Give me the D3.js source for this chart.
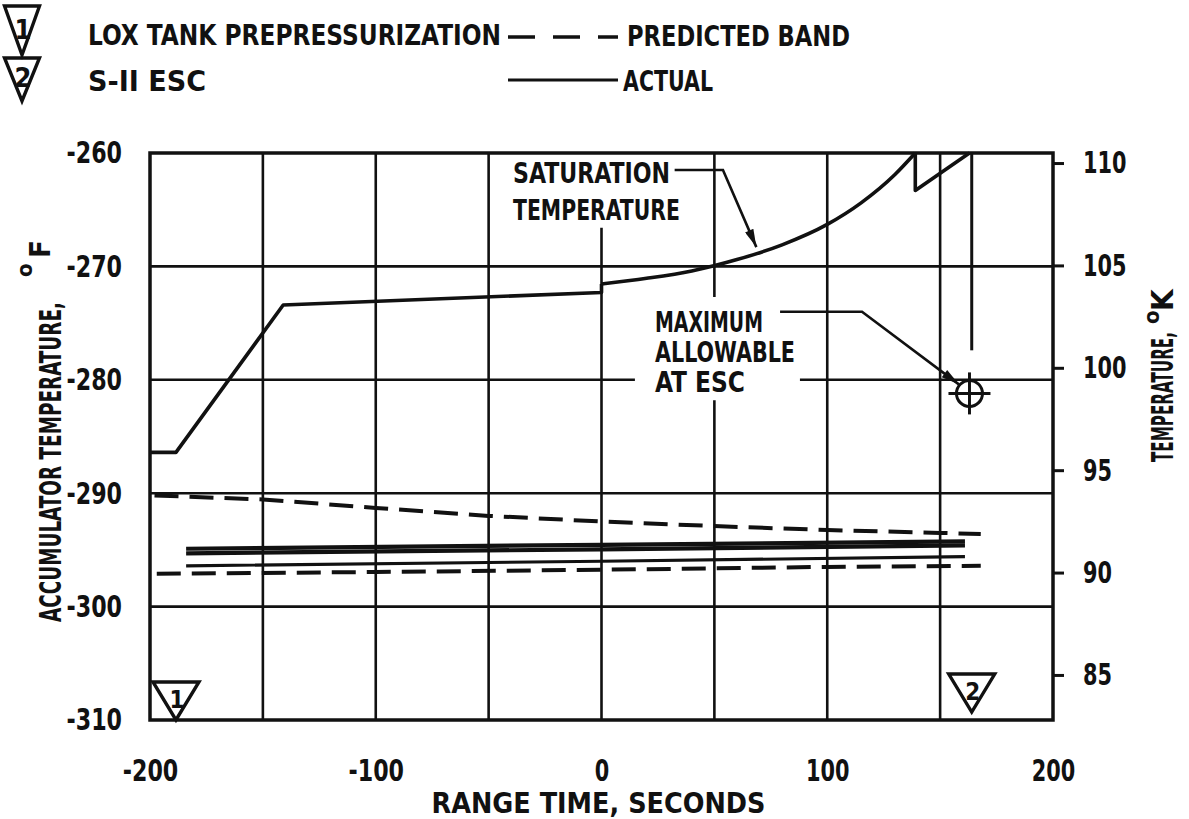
<!DOCTYPE html>
<html>
<head>
<meta charset="utf-8">
<script src="https://cdn.jsdelivr.net/npm/d3@7/dist/d3.min.js"></script>
<style>
  body { margin: 0; background: #fff; }
  svg text { font-family: "Liberation Sans Narrow", "DejaVu Sans Condensed", "Liberation Sans", sans-serif; font-weight: bold; fill: #111; }
</style>
</head>
<body>
<div id="viz"></div>
<script>
// range time (s) vs accumulator temperature (deg F)
const satRamp = [[-200,-286.4],[-188.5,-286.4],[-141,-273.4],[0,-272.3],[0,-271.55]];
const satRise = [[0,-271.55],[20,-271.05],[40,-270.4],[60,-269.4],[80,-268.1],[100,-266.3],[115,-264.4],[130,-261.9],[139,-260]];
const satStep = [[139,-260],[139,-263.3],[163,-260]];
const predictedUpper = [[-198,-290.2],[-150,-290.55],[-100,-291.3],[-50,-292.0],[0,-292.5],[50,-292.9],[100,-293.25],[150,-293.5],[168,-293.6]];
const predictedLower = [[-197,-297.1],[-100,-296.95],[0,-296.75],[100,-296.5],[168,-296.4]];
const actualA = [[-184,-294.9],[0,-294.55],[161,-294.25]];
const actualB = [[-184,-295.3],[0,-294.95],[161,-294.6]];
const actualC = [[-184,-296.4],[0,-296.0],[161,-295.6]];
const escLine = [[164,-260],[164,-277.4]];
const maxAllowable = [163,-281.2];

const xTicks = [-200,-100,0,100,200];
const xGrid = [-150,-100,-50,0,50,100,150];
const yTicksF = [-310,-300,-290,-280,-270,-260];
const yGrid = [-300,-290,-280,-270];
const yTicksK = [85,90,95,100,105,110];
const eventTimes = [-188.5,164];
const eventTemps = [-310,-309.3];
const eventLabels = ['1','2'];

// gaps in the grid where the notes sit
const vGaps = [[0,-266.6,-260],[50,-281.8,-272.7]];
const hGaps = [[-280,14.8,87.9]];

const satText = ['SATURATION','TEMPERATURE'];
const maxText = ['MAXIMUM','ALLOWABLE','AT ESC'];
const satLeader = [[32.4,-261.5],[53.8,-261.5],[68.6,-268.3]];
const maxLeader = [[79.1,-274.0],[115.4,-274.0],[158.3,-280.4]];

const W = 1189, H = 819;
const svg = d3.select('#viz').append('svg').attr('width', W).attr('height', H);

const x = d3.scaleLinear().domain([-200,200]).range([150,1053]);
const y = d3.scaleLinear().domain([-310,-260]).range([720,153]);
const yK = d3.scaleLinear().domain([82.8,110.49]).range([720,153]);

// squeeze the wide fallback font to the narrow typewriter look
function fit(sel, w) {
  return sel.attr('textLength', w).attr('lengthAdjust','spacingAndGlyphs');
}
const numW = s => s.replace('-', '').length * 14.5 + (s[0] === '-' ? 12 : 0);

svg.append('defs').append('marker')
  .attr('id','arrow').attr('viewBox','0 0 20 10').attr('refX',20).attr('refY',5)
  .attr('markerWidth',22).attr('markerHeight',9).attr('markerUnits','userSpaceOnUse')
  .attr('orient','auto')
  .append('path').attr('d','M0,0 L20,5 L0,10 Z').attr('fill','#111');

// grid
function cut(lo, hi, g) {
  if (!g) return [[lo,hi]];
  return [[lo,g[0]],[g[1],hi]].filter(s => s[1] - s[0] > 0.01);
}
xGrid.forEach(t => {
  const g = vGaps.find(d => d[0] === t);
  cut(-310, -260, g && [g[1], g[2]]).forEach(s => {
    svg.append('line').attr('x1', x(t)).attr('x2', x(t)).attr('y1', y(s[0])).attr('y2', y(s[1]))
      .attr('stroke','#111').attr('stroke-width',2.6);
  });
});
yGrid.forEach(v => {
  const g = hGaps.find(d => d[0] === v);
  cut(-200, 200, g && [g[1], g[2]]).forEach(s => {
    svg.append('line').attr('y1', y(v)).attr('y2', y(v)).attr('x1', x(s[0])).attr('x2', x(s[1]))
      .attr('stroke','#111').attr('stroke-width',2.6);
  });
});

// frame
svg.append('rect')
  .attr('x', x(-200)).attr('y', y(-260))
  .attr('width', x(200) - x(-200)).attr('height', y(-310) - y(-260))
  .attr('fill','none').attr('stroke','#111').attr('stroke-width',3.5);

// axes
const fmt = d => String(d);
const gL = svg.append('g').attr('transform', `translate(${x(-200)},0)`)
  .call(d3.axisLeft(y).tickValues(yTicksF).tickFormat(fmt).tickSize(0).tickPadding(28));
const gR = svg.append('g').attr('transform', `translate(${x(200)},0)`)
  .call(d3.axisRight(yK).tickValues(yTicksK).tickFormat(fmt).tickSize(11).tickPadding(19));
const gB = svg.append('g').attr('transform', `translate(0,${y(-310)})`)
  .call(d3.axisBottom(x).tickValues(xTicks).tickFormat(fmt).tickSize(0).tickPadding(39));
[gL, gR, gB].forEach(g => {
  g.select('.domain').remove();
  g.attr('font-family', null).attr('font-size', null);
  g.selectAll('text').style('font-size','31px')
    .attr('textLength', d => numW(String(d))).attr('lengthAdjust','spacingAndGlyphs');
  g.selectAll('line').attr('stroke','#111').attr('stroke-width',3);
});

// axis titles
const tl = svg.append('g').attr('transform','translate(61,622) rotate(-90)');
fit(tl.append('text').attr('x',0).attr('y',0).style('font-size','31px')
  .text('ACCUMULATOR TEMPERATURE,'), 320);
tl.append('text').attr('x',345).attr('y',-29).style('font-size','22px').text('o');
tl.append('text').attr('x',364).attr('y',-11).style('font-size','29px').text('F');

const tr = svg.append('g').attr('transform','translate(1173,462) rotate(-90)');
fit(tr.append('text').attr('x',0).attr('y',0).style('font-size','31px')
  .text('TEMPERATURE,'), 130);
tr.append('text').attr('x',138).attr('y',-14).style('font-size','22px').text('o');
tr.append('text').attr('x',151).attr('y',0).style('font-size','31px').text('K');

fit(svg.append('text').attr('x', x(0) - 3).attr('y', 813).attr('text-anchor','middle')
  .style('font-size','29px').text('RANGE TIME, SECONDS'), 334);

// curves
const line = d3.line().x(d => x(d[0])).y(d => y(d[1]));
const smooth = d3.line().x(d => x(d[0])).y(d => y(d[1])).curve(d3.curveMonotoneX);
[[satRamp, line], [satRise, smooth], [satStep, line]].forEach(([s, gen]) => {
  svg.append('path').datum(s).attr('d', gen)
    .attr('fill','none').attr('stroke','#111').attr('stroke-width',3.6).attr('stroke-linejoin','round');
});
[predictedUpper, predictedLower].forEach(s => {
  svg.append('path').datum(s).attr('d', line)
    .attr('fill','none').attr('stroke','#111').attr('stroke-width',4).attr('stroke-dasharray','24,11');
});
[actualA, actualB].forEach(s => {
  svg.append('path').datum(s).attr('d', line)
    .attr('fill','none').attr('stroke','#111').attr('stroke-width',4.2);
});
svg.append('path').datum(actualC).attr('d', line)
  .attr('fill','none').attr('stroke','#111').attr('stroke-width',3.2);
svg.append('path').datum(escLine).attr('d', line)
  .attr('fill','none').attr('stroke','#111').attr('stroke-width',3);

// max allowable target
const cx = x(maxAllowable[0]), cy = y(maxAllowable[1]);
svg.append('circle').attr('cx', cx).attr('cy', cy).attr('r', 13)
  .attr('fill','none').attr('stroke','#111').attr('stroke-width',3);
svg.append('line').attr('x1', cx - 21).attr('x2', cx + 21).attr('y1', cy).attr('y2', cy)
  .attr('stroke','#111').attr('stroke-width',3);
svg.append('line').attr('x1', cx).attr('x2', cx).attr('y1', cy - 21).attr('y2', cy + 21)
  .attr('stroke','#111').attr('stroke-width',3);

// notes and leaders
const satW = [157, 167], maxW = [108, 140, 90];
satText.forEach((s, i) => {
  fit(svg.append('text').attr('x', x(-39.2)).attr('y', y(-262.65) + i * 37)
    .style('font-size','29px').text(s), satW[i]);
});
maxText.forEach((s, i) => {
  fit(svg.append('text').attr('x', x(23.7)).attr('y', y(-275.8) + i * 30)
    .style('font-size','28px').text(s), maxW[i]);
});
[satLeader, maxLeader].forEach(s => {
  svg.append('path').datum(s).attr('d', line)
    .attr('fill','none').attr('stroke','#111').attr('stroke-width',2.6)
    .attr('marker-end','url(#arrow)');
});

// event triangles
function tri(g, ax, ay, w, h, label, fs) {
  g.append('path')
    .attr('d', `M${ax - w / 2},${ay - h} L${ax + w / 2},${ay - h} L${ax},${ay} Z`)
    .attr('fill','none').attr('stroke','#111').attr('stroke-width',3.4).attr('stroke-linejoin','miter');
  g.append('text').attr('x', ax + 1).attr('y', ay - h * 0.32).attr('text-anchor','middle')
    .style('font-size', fs + 'px').text(label);
}
eventTimes.forEach((t, i) => tri(svg, x(t), y(eventTemps[i]), 46, 38, eventLabels[i], 24));

// legend
tri(svg, 22, 55, 35, 49, eventLabels[0], 27);
tri(svg, 22, 101, 35, 43, eventLabels[1], 27);
fit(svg.append('text').attr('x', 88).attr('y', 45).style('font-size','29px')
  .text('LOX TANK PREPRESSURIZATION'), 413);
fit(svg.append('text').attr('x', 88).attr('y', 91).style('font-size','29px')
  .text('S-II ESC'), 118);
svg.append('line').attr('x1',508).attr('x2',618).attr('y1',37).attr('y2',37)
  .attr('stroke','#111').attr('stroke-width',3.5).attr('stroke-dasharray','27,18');
svg.append('line').attr('x1',508).attr('x2',618).attr('y1',80).attr('y2',80)
  .attr('stroke','#111').attr('stroke-width',3);
fit(svg.append('text').attr('x', 627).attr('y', 46).style('font-size','29px')
  .text('PREDICTED BAND'), 223);
fit(svg.append('text').attr('x', 623).attr('y', 91).style('font-size','29px')
  .text('ACTUAL'), 90);
</script>
</body>
</html>
